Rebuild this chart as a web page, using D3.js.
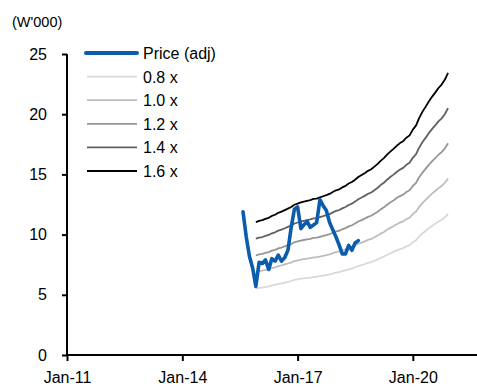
<!DOCTYPE html>
<html>
<head>
<meta charset="utf-8">
<script src="https://cdn.jsdelivr.net/npm/d3@7"></script>
<style>
  html, body { margin: 0; padding: 0; background: #fff; }
  svg { display: block; font-family: "Liberation Sans", Arial, sans-serif; }
</style>
</head>
<body>
<svg id="chart" width="477" height="387"></svg>
<script>
// Share price, monthly, from Aug-2015 (W'000)
const priceStart = "2015-08";
const price = [11.9, 9.8, 8.2, 7.2, 5.7, 7.7, 7.6, 7.9, 7.1, 8.0, 7.8, 8.3, 7.8,
  8.1, 8.7, 10.6, 12.1, 12.3, 10.5, 10.8, 11.1, 10.6, 10.8, 11.0, 12.9, 12.4,
  12.0, 11.0, 10.4, 9.8, 9.1, 8.4, 8.4, 9.1, 8.7, 9.3, 9.5];

// Base value per share (1.0x), monthly from Dec-2015 to Dec-2020 (W'000)
const baseStart = "2015-12";
const base = [6.90, 6.96, 7.00, 7.07, 7.12, 7.22, 7.28, 7.38, 7.44, 7.52, 7.60,
  7.68, 7.80, 7.86, 7.92, 7.96, 8.00, 8.04, 8.10, 8.12, 8.18, 8.24, 8.30, 8.36,
  8.46, 8.55, 8.60, 8.70, 8.78, 8.90, 8.98, 9.10, 9.24, 9.34, 9.44, 9.56, 9.64,
  9.78, 9.92, 10.08, 10.22, 10.40, 10.56, 10.70, 10.86, 11.00, 11.10, 11.28,
  11.40, 11.70, 11.92, 12.30, 12.62, 12.88, 13.16, 13.40, 13.62, 13.86, 14.04,
  14.30, 14.65];

// Multiples of the base shown as bands
const multiples = [0.8, 1.0, 1.2, 1.4, 1.6];
const multipleLabels = ["0.8 x", "1.0 x", "1.2 x", "1.4 x", "1.6 x"];
const multipleColors = ["#d9d9d9", "#bdbdbd", "#969696", "#616161", "#000000"];

const priceLabel = "Price (adj)";
const priceColor = "#0b5cad";

const yTicks = [0, 5, 10, 15, 20, 25];
const xTicks = ["2011-01", "2014-01", "2017-01", "2020-01"];
const unitLabel = "(W'000)";

const parseMonth = d3.timeParse("%Y-%m");
const svg = d3.select("#chart");

const x = d3.scaleTime()
  .domain([parseMonth("2011-01"), new Date(2021, 8, 2)])
  .range([67, 477]);
const y = d3.scaleLinear().domain([0, 25]).range([355, 54]);

const monthly = (start, values) => values.map((v, i) => ({
  date: d3.timeMonth.offset(parseMonth(start), i), value: v
}));

const line = d3.line().x(d => x(d.date)).y(d => y(d.value));

// Axes
const yAxis = svg.append("g")
  .attr("transform", "translate(67,0)")
  .call(d3.axisLeft(y).tickValues(yTicks).tickSize(5).tickPadding(15));
const xAxis = svg.append("g")
  .attr("transform", "translate(0,355)")
  .call(d3.axisBottom(x).tickValues(xTicks.map(parseMonth))
    .tickFormat(d3.timeFormat("%b-%y")).tickSize(6).tickPadding(11));
[yAxis, xAxis].forEach(g => {
  g.select(".domain").attr("stroke", "#000").attr("stroke-width", 2);
  g.selectAll(".tick line").attr("stroke", "#000").attr("stroke-width", 2);
  g.selectAll(".tick text").attr("fill", "#000").attr("font-size", 16)
    .attr("font-family", "'Liberation Sans', Arial, sans-serif");
});
// outer ticks off the domain path
yAxis.select(".domain").attr("d", "M0,355V54");
xAxis.select(".domain").attr("d", "M67,0H477");

svg.append("text").attr("x", 12).attr("y", 27)
  .attr("font-size", 14.5).text(unitLabel);

// Multiple bands
multiples.forEach((m, i) => {
  svg.append("path")
    .datum(monthly(baseStart, base.map(v => v * m)))
    .attr("fill", "none")
    .attr("stroke", multipleColors[i])
    .attr("stroke-width", 1.8)
    .attr("stroke-linejoin", "round")
    .attr("d", line);
});

// Price line
svg.append("path")
  .datum(monthly(priceStart, price))
  .attr("fill", "none")
  .attr("stroke", priceColor)
  .attr("stroke-width", 3.6)
  .attr("stroke-linejoin", "round")
  .attr("stroke-linecap", "round")
  .attr("d", line);

// Legend
const legend = svg.append("g");
const rows = [{ label: priceLabel, color: priceColor, w: 4 }]
  .concat(multipleLabels.map((l, i) => ({ label: l, color: multipleColors[i], w: 1.8 })));
rows.forEach((r, i) => {
  const yy = 53 + i * 23.6;
  legend.append("line")
    .attr("x1", i === 0 ? 86 : 87).attr("x2", 137)
    .attr("y1", yy).attr("y2", yy)
    .attr("stroke", r.color).attr("stroke-width", r.w)
    .attr("stroke-linecap", i === 0 ? "round" : "butt");
  legend.append("text")
    .attr("x", 143).attr("y", yy + 6)
    .attr("font-size", 16).attr("fill", "#000")
    .text(r.label);
});
</script>
</body>
</html>
